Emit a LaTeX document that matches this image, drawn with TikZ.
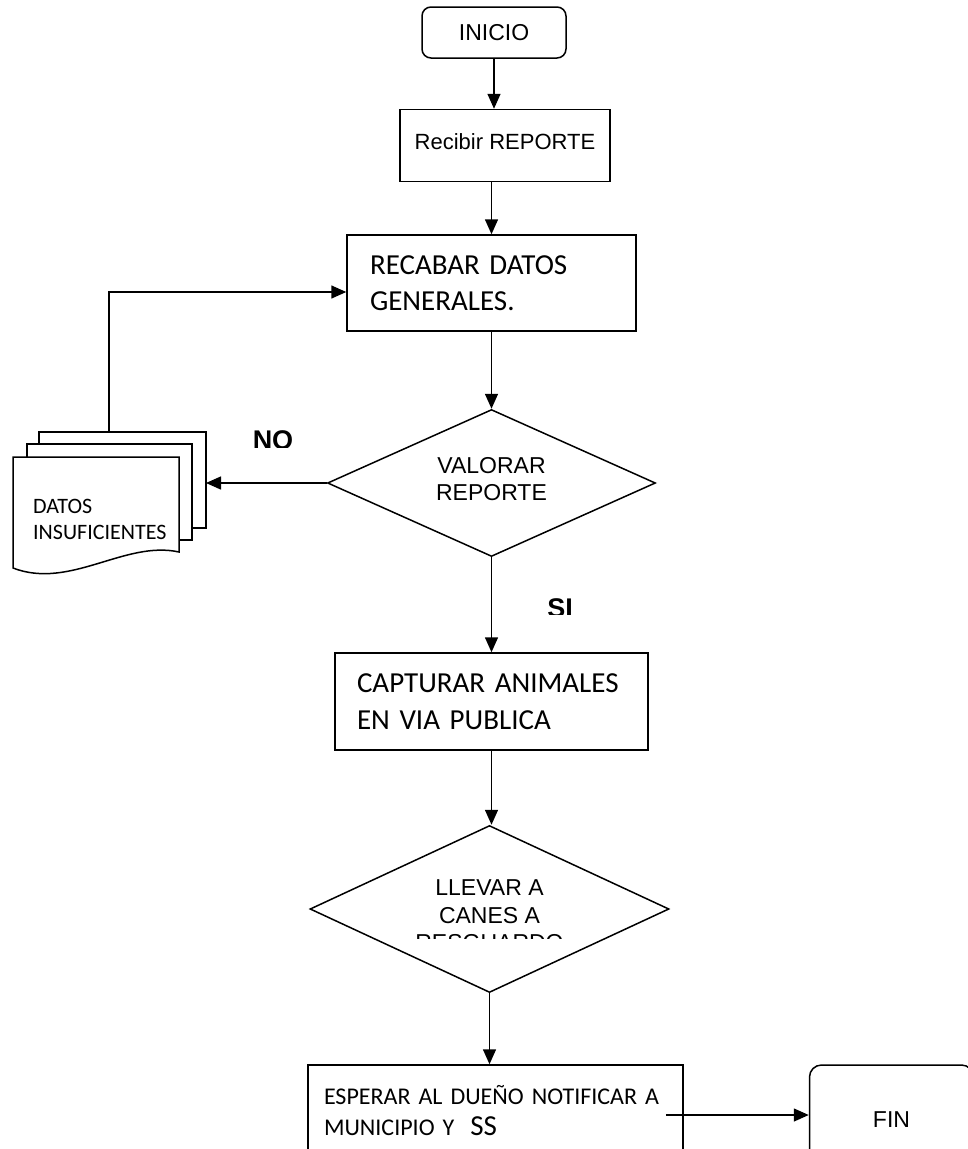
\documentclass[tikz,border=0pt]{standalone}
\usepackage{fontspec}
\setmainfont{Liberation Sans}
\newfontfamily\calibri{Carlito}
\usetikzlibrary{shapes.geometric, arrows.meta, positioning}

\begin{document}
\begin{tikzpicture}[
    x=1pt, y=-1pt,
    node distance=50pt,
    startstop/.style={rectangle, rounded corners=9pt, draw, line width=1.5pt, font=\fontsize{23}{27}\selectfont},
    process/.style={rectangle, draw, line width=1.5pt, fill=white},
    textbox/.style={process, align=left, font=\calibri\fontsize{29}{36}\selectfont},
    decision/.style={diamond, draw, line width=1.5pt, aspect=2.2, inner sep=0pt, align=center, font=\fontsize{23}{27}\selectfont},
    answer/.style={font=\bfseries\fontsize{27}{30}\selectfont, inner sep=0pt, anchor=base},
    page/.style={draw, line width=1.5pt, fill=white},
    arrow/.style={line width=1.5pt, -{Triangle[length=15pt, width=13pt]}}
]
\useasboundingbox (0,0) rectangle (968,1149);
\clip (0,0) rectangle (968,1149);
\fill[white] (0,0) rectangle (968,1149);

\node[startstop, minimum width=144pt, minimum height=51pt] (inicio) at (494,32.5) {INICIO};
\node[process, below=50pt of inicio, xshift=11pt, minimum width=210pt, minimum height=72pt, text depth=8pt, font=\fontsize{22}{26}\selectfont] (recibir) {Recibir REPORTE};
\node[textbox, below=52pt of recibir, xshift=-13.5pt, text width=243pt, inner xsep=23pt, minimum height=96pt] (recabar) {RECABAR DATOS\\GENERALES.};
\node[decision, below=77pt of recabar, minimum width=328pt, minimum height=147pt, text depth=8pt] (valorar) {VALORAR\\REPORTE};
\node[textbox, below=95pt of valorar, text width=269pt, inner xsep=22pt, minimum height=97pt, font=\calibri\fontsize{29}{37}\selectfont] (capturar) {CAPTURAR ANIMALES\\EN VIA PUBLICA};
\node[decision, below=74pt of capturar, xshift=-2pt, minimum width=359pt, minimum height=167pt] (llevar) {};
\node[textbox, below=71pt of llevar, xshift=6pt, text width=343pt, inner xsep=16pt, minimum height=100pt, text depth=40pt, font=\calibri\fontsize{24}{31}\selectfont] (esperar) {ESPERAR AL DUEÑO NOTIFICAR A\\MUNICIPIO Y\ \ {\fontsize{29}{31}\selectfont SS}};
\node[startstop, rounded corners=12pt, minimum width=164pt, minimum height=110pt, right=125pt of esperar.north east, anchor=north west] (fin) {FIN};

\draw[page] (39,432) rectangle (206,528);
\draw[page] (27,444) rectangle (192,540);
\draw[page] (13,457) -- (179,457) -- (179,552) .. controls (125,540) and (70,590) .. (13,568) -- cycle;
\node[anchor=west, align=left, inner sep=0pt, font=\calibri\fontsize{22}{26}\selectfont] (datos) at (33,519) {DATOS\\INSUFICIENTES};
\coordinate (pila) at (206,480);
\coordinate (pilaTop) at (109,432);

\begin{scope}
\clip (380,840) rectangle (600,938);
\node[align=center, inner sep=0pt, font=\fontsize{23}{27.5}\selectfont] (llevarTxt) at ([yshift=-6.5pt]llevar.center) {LLEVAR A\\CANES A\\RESGUARDO};
\end{scope}
\begin{scope}
\clip (230,420) rectangle (320,447);
\node[answer] (noLbl) at (273,449.5) {NO};
\end{scope}
\begin{scope}
\clip (520,590) rectangle (600,614);
\node[answer] (siLbl) at (560,617.5) {SI};
\end{scope}

\draw[arrow] (inicio.south) -- (inicio.south |- recibir.north);
\draw[arrow] (recabar.north |- recibir.south) -- (recabar.north);
\draw[arrow] (recabar) -- (valorar);
\draw[arrow] (valorar.west) -- (valorar.west -| pila);
\draw[arrow] (pilaTop) |- ([yshift=-9pt]recabar.west);
\draw[arrow] (valorar) -- (capturar);
\draw[arrow] (capturar.south) -- (capturar.south |- llevar.north);
\draw[arrow] (llevar.south) -- (llevar.south |- esperar.north);
\draw[arrow] ([xshift=-18pt]esperar.east) -- (esperar.east -| fin.west);
\end{tikzpicture}
\end{document}
